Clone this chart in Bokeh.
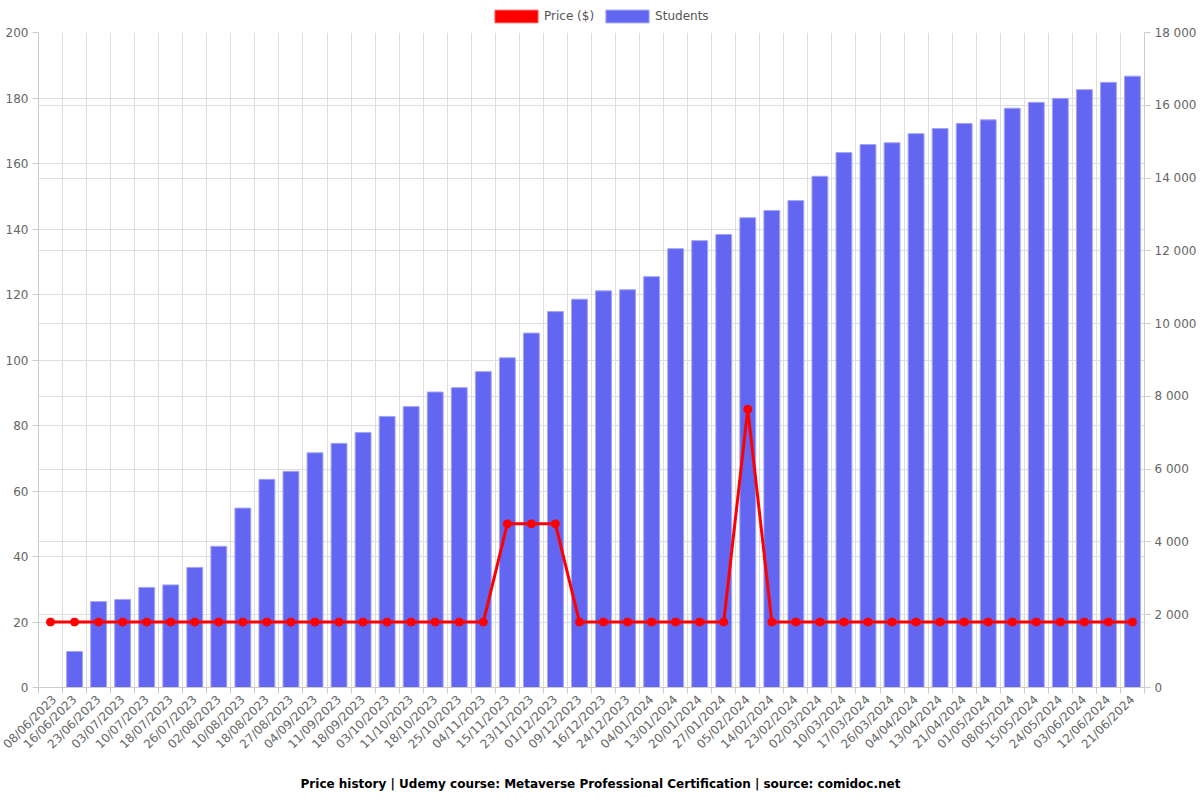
from bokeh.plotting import figure
from bokeh.layouts import column
from bokeh.models import (Range1d, LinearAxis, FixedTicker, Grid, Legend, LegendItem,
                          ColumnDataSource, Label)
from bokeh.embed import file_html
from bokeh.resources import INLINE
import math

dates = ["08/06/2023", "16/06/2023", "23/06/2023", "03/07/2023", "10/07/2023", "18/07/2023",
         "26/07/2023", "02/08/2023", "10/08/2023", "18/08/2023", "27/08/2023", "04/09/2023",
         "11/09/2023", "18/09/2023", "03/10/2023", "11/10/2023", "18/10/2023", "25/10/2023",
         "04/11/2023", "15/11/2023", "23/11/2023", "01/12/2023", "09/12/2023", "16/12/2023",
         "24/12/2023", "04/01/2024", "13/01/2024", "20/01/2024", "27/01/2024", "05/02/2024",
         "14/02/2024", "23/02/2024", "02/03/2024", "10/03/2024", "17/03/2024", "26/03/2024",
         "04/04/2024", "13/04/2024", "21/04/2024", "01/05/2024", "08/05/2024", "15/05/2024",
         "24/05/2024", "03/06/2024", "12/06/2024", "21/06/2024"]

students = [0, 990, 2360, 2420, 2750, 2820, 3300, 3880, 4930, 5720, 5940, 6450,
            6710, 7010, 7450, 7720, 8120, 8240, 8680, 9060, 9740, 10330, 10670, 10900,
            10930, 11290, 12060, 12280, 12450, 12910, 13110, 13380, 14050, 14700, 14920, 14970,
            15220, 15360, 15500, 15600, 15920, 16080, 16190, 16430, 16630, 16800]

price = [19.99] * 19 + [49.99, 49.99, 49.99] + [19.99] * 7 + [84.99] + [19.99] * 16

price_ticks = [0, 20, 40, 60, 80, 100, 120, 140, 160, 180, 200]
student_ticks = [0, 2000, 4000, 6000, 8000, 10000, 12000, 14000, 16000, 18000]
student_tick_labels = ["0", "2 000", "4 000", "6 000", "8 000", "10 000", "12 000",
                       "14 000", "16 000", "18 000"]

series_names = ["Price ($)", "Students"]
title_text = "Price history | Udemy course: Metaverse Professional Certification | source: comidoc.net"

FONT = "DejaVu Sans"
GRID = "#dedede"
AXIS = "#cccccc"
LABEL = "#666666"
BAR_FILL = "#6366f1"
BAR_LINE = "#a3a5f7"
RED = "#ff0000"

W = 1200
H_LEG, H_MAIN, H_TITLE = 24, 746, 30
BL, BR, BT, BB = 38, 56, 8, 83
FRAME_W = W - BL - BR


def blank(height):
    f = figure(width=W, height=height, output_backend="svg", toolbar_location=None,
               x_range=Range1d(0, 1), y_range=Range1d(0, 1),
               min_border_left=BL, min_border_right=BR, min_border_top=0, min_border_bottom=0)
    f.axis.visible = False
    f.grid.visible = False
    f.outline_line_color = None
    f.background_fill_color = "white"
    f.border_fill_color = "white"
    return f


# ---------- legend strip ----------
leg_fig = blank(H_LEG)
sw_price = leg_fig.vbar(x=[0.5], top=[float("nan")], width=0.1, fill_color=RED,
                        line_color="#ff7070", line_width=1)
sw_students = leg_fig.vbar(x=[0.5], top=[float("nan")], width=0.1, fill_color=BAR_FILL,
                           line_color=BAR_LINE, line_width=1)
legend = Legend(items=[LegendItem(label=series_names[0], renderers=[sw_price]),
                       LegendItem(label=series_names[1], renderers=[sw_students])],
                orientation="horizontal", location=(451, 0),
                glyph_width=54, glyph_height=16, label_height=13, label_standoff=1,
                spacing=6, padding=0, margin=0, border_line_color=None,
                background_fill_alpha=0,
                label_text_font=FONT, label_text_font_size="12px", label_text_color="#555555")
leg_fig.add_layout(legend, "center")

# ---------- main chart ----------
n = len(dates)
centers = [i + 0.5 for i in range(n)]
bounds = list(range(n + 1))

src = ColumnDataSource(dict(x=centers, students=students, price=price, date=dates))

p = figure(width=W, height=H_MAIN, output_backend="svg", toolbar_location=None,
           x_range=Range1d(0, n), y_range=Range1d(0, 200),
           min_border_left=BL, min_border_right=BR, min_border_top=BT, min_border_bottom=BB)
p.outline_line_color = None
p.background_fill_color = "white"
p.border_fill_color = "white"
p.extra_y_ranges = {"students": Range1d(0, 18000)}

p.xaxis.visible = False
p.yaxis.visible = False
p.xgrid.visible = False
p.ygrid.visible = False

xaxis = LinearAxis(ticker=FixedTicker(ticks=centers, minor_ticks=bounds))
xaxis.major_label_overrides = {c: d for c, d in zip(centers, dates)}
xaxis.major_label_orientation = math.pi / 4
xaxis.major_tick_out = 0
xaxis.major_tick_in = 0
xaxis.minor_tick_out = 6
xaxis.minor_tick_in = 0
xaxis.minor_tick_line_color = AXIS
xaxis.axis_line_color = AXIS
xaxis.major_label_text_font = FONT
xaxis.major_label_text_font_size = "12px"
xaxis.major_label_text_color = LABEL
xaxis.major_label_standoff = 4
p.add_layout(xaxis, "below")

laxis = LinearAxis(ticker=FixedTicker(ticks=price_ticks))
laxis.major_tick_out = 6
laxis.major_tick_in = 0
laxis.minor_tick_out = 0
laxis.minor_tick_in = 0
laxis.major_tick_line_color = AXIS
laxis.axis_line_color = AXIS
laxis.major_label_text_font = FONT
laxis.major_label_text_font_size = "12px"
laxis.major_label_text_color = LABEL
laxis.major_label_standoff = 4
p.add_layout(laxis, "left")

raxis = LinearAxis(y_range_name="students", ticker=FixedTicker(ticks=student_ticks))
raxis.major_label_overrides = {t: l for t, l in zip(student_ticks, student_tick_labels)}
raxis.major_tick_out = 6
raxis.major_tick_in = 0
raxis.minor_tick_out = 0
raxis.minor_tick_in = 0
raxis.major_tick_line_color = AXIS
raxis.axis_line_color = AXIS
raxis.major_label_text_font = FONT
raxis.major_label_text_font_size = "12px"
raxis.major_label_text_color = LABEL
raxis.major_label_standoff = 4
p.add_layout(raxis, "right")

p.add_layout(Grid(dimension=0, ticker=FixedTicker(ticks=bounds), grid_line_color=GRID,
                  level="underlay"))
p.add_layout(Grid(dimension=1, ticker=FixedTicker(ticks=price_ticks), grid_line_color=GRID,
                  level="underlay"))
p.add_layout(Grid(dimension=1, ticker=FixedTicker(ticks=student_ticks), y_range_name="students",
                  grid_line_color=GRID, level="underlay"))

p.vbar(x="x", top="students", width=0.66, source=src, y_range_name="students",
       fill_color=BAR_FILL, line_color=BAR_LINE, line_width=1)
p.line(x="x", y="price", source=src, line_color=RED, line_width=3)
p.scatter(x="x", y="price", source=src, size=8, fill_color=RED, line_color=RED,
          marker="circle")

# ---------- bottom title strip ----------
tit_fig = blank(H_TITLE)
tit_fig.add_layout(Label(x=(W / 2 - BL) / FRAME_W, y=17 / H_TITLE, text=title_text,
                         text_align="center", text_baseline="middle", text_font=FONT,
                         text_font_size="12px", text_font_style="bold",
                         text_color="#000000"))

layout = column(leg_fig, p, tit_fig, spacing=0)
open("out.html", "w").write(file_html(layout, INLINE))
